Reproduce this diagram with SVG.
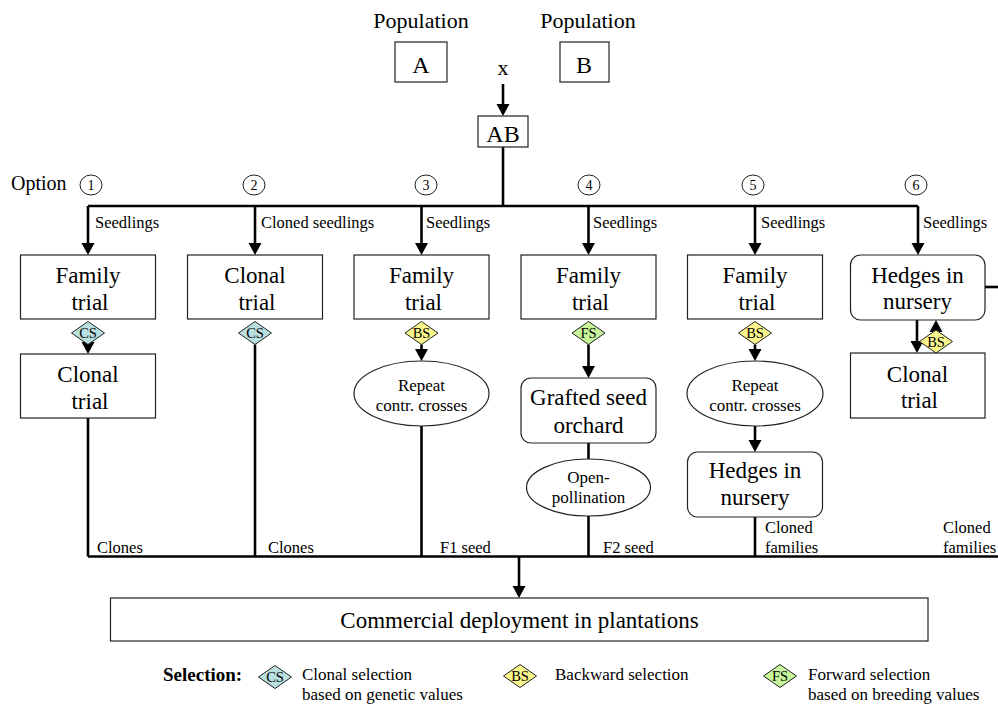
<svg xmlns="http://www.w3.org/2000/svg" width="998" height="705" viewBox="0 0 998 705" font-family="'Liberation Serif', 'Times New Roman', Times, serif">
  <style>
    text { font-family: 'Liberation Serif', 'Times New Roman', Times, serif; fill: #000; }
    .big { font-size: 23px; text-anchor: middle; }
    .top { font-size: 22px; text-anchor: middle; }
    .lbl { font-size: 16.5px; }
    .oval { font-size: 17px; text-anchor: middle; }
    .num { font-size: 14px; text-anchor: middle; }
    .dia { font-size: 14.5px; text-anchor: middle; }
    .leg { font-size: 17px; }
    .box { fill: #fff; stroke: #222; stroke-width: 1.2; }
    .ell { fill: #fff; stroke: #222; stroke-width: 1.2; }
    .circ { fill: #fff; stroke: #222; stroke-width: 1; }
    .conn { fill: none; stroke: #000; stroke-width: 2.6; }
    .cs { fill: #b9dfdf; stroke: #222; stroke-width: 1; }
    .bs { fill: #fbf68c; stroke: #222; stroke-width: 1; }
    .fs { fill: #c8f59c; stroke: #222; stroke-width: 1; }
  </style>
  <defs>
    <marker id="ah" markerUnits="userSpaceOnUse" markerWidth="14" markerHeight="14" viewBox="0 -7 12 14" refX="9" refY="0" orient="auto">
      <path d="M0,-6.5 L12,0 L0,6.5 z" fill="#000"/>
    </marker>
    <path id="diamond" d="M-16.5,0 L0,-11.5 L16.5,0 L0,11.5 z"/>
  </defs>

  <!-- connectors -->
  <g id="connectors" class="conn">
    <path d="M503,84 V113" marker-end="url(#ah)"/>
    <path d="M503,147 V206"/>
    <path d="M88,206 H918"/>
    <path d="M88,206 V252" marker-end="url(#ah)"/>
    <path d="M255,206 V252" marker-end="url(#ah)"/>
    <path d="M421.5,206 V252" marker-end="url(#ah)"/>
    <path d="M588.5,206 V252" marker-end="url(#ah)"/>
    <path d="M755,206 V252" marker-end="url(#ah)"/>
    <path d="M918,206 V252" marker-end="url(#ah)"/>
    <!-- option 1 -->
    <path d="M88,344.5 V351" marker-end="url(#ah)"/>
    <path d="M88,418 V556.5"/>
    <!-- option 2 -->
    <path d="M255,344.5 V556.5"/>
    <!-- option 3 -->
    <path d="M421.5,344.5 V358" marker-end="url(#ah)"/>
    <path d="M421.5,426 V556.5"/>
    <!-- option 4 -->
    <path d="M588.5,344.5 V375" marker-end="url(#ah)"/>
    <path d="M588.5,443 V459"/>
    <path d="M588.5,516 V556.5"/>
    <!-- option 5 -->
    <path d="M755,344.5 V358" marker-end="url(#ah)"/>
    <path d="M755,426 V449" marker-end="url(#ah)"/>
    <path d="M755,517 V556.5"/>
    <!-- option 6 -->
    <path d="M917,320 V350" marker-end="url(#ah)"/>
    <path d="M936,330 V323" marker-end="url(#ah)"/>
    <path d="M985,287 H998"/>
    <!-- collector to deployment -->
    <path d="M88,556.5 H998"/>
    <path d="M519,556.5 V595" marker-end="url(#ah)"/>
  </g>

  <!-- parents and cross -->
  <g id="popA">
    <text class="top" x="421" y="28">Population</text>
    <rect class="box" x="395" y="42" width="52" height="40"/>
    <text class="top" x="421" y="73" style="font-size:24px">A</text>
  </g>
  <g id="popB">
    <text class="top" x="588" y="28">Population</text>
    <rect class="box" x="560" y="42" width="49" height="40"/>
    <text class="top" x="584" y="73" style="font-size:24px">B</text>
  </g>
  <text class="top" x="503" y="75">x</text>
  <g id="AB">
    <rect class="box" x="478" y="116" width="50" height="31"/>
    <text class="top" x="503" y="141.5" style="font-size:24px">AB</text>
  </g>

  <!-- option markers -->
  <g id="options">
    <text x="11" y="190" style="font-size:20px">Option</text>
    <ellipse class="circ" cx="91" cy="185" rx="11" ry="10"/><text class="num" x="91" y="190">1</text>
    <ellipse class="circ" cx="254" cy="185" rx="11" ry="10"/><text class="num" x="254" y="190">2</text>
    <ellipse class="circ" cx="426" cy="185" rx="11" ry="10"/><text class="num" x="426" y="190">3</text>
    <ellipse class="circ" cx="589" cy="185" rx="11" ry="10"/><text class="num" x="589" y="190">4</text>
    <ellipse class="circ" cx="753" cy="185" rx="11" ry="10"/><text class="num" x="753" y="190">5</text>
    <ellipse class="circ" cx="916" cy="185" rx="11" ry="10"/><text class="num" x="916" y="190">6</text>
  </g>

  <!-- connector labels -->
  <g id="labels" class="lbl">
    <text x="95" y="228">Seedlings</text>
    <text x="261" y="228">Cloned seedlings</text>
    <text x="426" y="228">Seedlings</text>
    <text x="593" y="228">Seedlings</text>
    <text x="761" y="228">Seedlings</text>
    <text x="923" y="228">Seedlings</text>
    <text x="97" y="552.5">Clones</text>
    <text x="268" y="552.5">Clones</text>
    <text x="440" y="552.5">F1 seed</text>
    <text x="603" y="552.5">F2 seed</text>
    <text x="765" y="533">Cloned</text>
    <text x="765" y="552.5">families</text>
    <text x="943" y="533">Cloned</text>
    <text x="943" y="552.5">families</text>
  </g>

  <!-- option 1 -->
  <g id="o1-family">
    <rect class="box" x="20.5" y="255" width="135" height="64"/>
    <text class="big" x="88" y="283">Family</text>
    <text class="big" x="90" y="310">trial</text>
  </g>
  <g id="o1-cs">
    <use href="#diamond" class="cs" x="88" y="333"/>
    <text class="dia" x="88" y="338">CS</text>
  </g>
  <g id="o1-clonal">
    <rect class="box" x="20.5" y="354" width="135" height="64"/>
    <text class="big" x="88" y="382">Clonal</text>
    <text class="big" x="90" y="409">trial</text>
  </g>

  <!-- option 2 -->
  <g id="o2-clonal">
    <rect class="box" x="187.5" y="255" width="135" height="64"/>
    <text class="big" x="255" y="283">Clonal</text>
    <text class="big" x="257" y="310">trial</text>
  </g>
  <g id="o2-cs">
    <use href="#diamond" class="cs" x="255" y="333"/>
    <text class="dia" x="255" y="338">CS</text>
  </g>

  <!-- option 3 -->
  <g id="o3-family">
    <rect class="box" x="354" y="255" width="135" height="64"/>
    <text class="big" x="421.5" y="283">Family</text>
    <text class="big" x="423.5" y="310">trial</text>
  </g>
  <g id="o3-bs">
    <use href="#diamond" class="bs" x="421.5" y="333"/>
    <text class="dia" x="421.5" y="338">BS</text>
  </g>
  <g id="o3-repeat">
    <ellipse class="ell" cx="421.5" cy="393.5" rx="67.5" ry="32.5"/>
    <text class="oval" x="421.5" y="391">Repeat</text>
    <text class="oval" x="421.5" y="411">contr. crosses</text>
  </g>

  <!-- option 4 -->
  <g id="o4-family">
    <rect class="box" x="521" y="255" width="135" height="64"/>
    <text class="big" x="588.5" y="283">Family</text>
    <text class="big" x="590.5" y="310">trial</text>
  </g>
  <g id="o4-fs">
    <use href="#diamond" class="fs" x="588.5" y="333"/>
    <text class="dia" x="588.5" y="338">FS</text>
  </g>
  <g id="o4-orchard">
    <rect class="box" x="521" y="378" width="135" height="65" rx="10"/>
    <text class="big" x="588.5" y="405">Grafted seed</text>
    <text class="big" x="588.5" y="432.5">orchard</text>
  </g>
  <g id="o4-openpoll">
    <ellipse class="ell" cx="588.5" cy="487.5" rx="62" ry="28.5"/>
    <text class="oval" x="588.5" y="483">Open-</text>
    <text class="oval" x="588.5" y="503">pollination</text>
  </g>

  <!-- option 5 -->
  <g id="o5-family">
    <rect class="box" x="687.5" y="255" width="135" height="64"/>
    <text class="big" x="755" y="283">Family</text>
    <text class="big" x="757" y="310">trial</text>
  </g>
  <g id="o5-bs">
    <use href="#diamond" class="bs" x="755" y="333"/>
    <text class="dia" x="755" y="338">BS</text>
  </g>
  <g id="o5-repeat">
    <ellipse class="ell" cx="755" cy="393.5" rx="68" ry="32.5"/>
    <text class="oval" x="755" y="391">Repeat</text>
    <text class="oval" x="755" y="411">contr. crosses</text>
  </g>
  <g id="o5-hedges">
    <rect class="box" x="687.5" y="452" width="135" height="65" rx="10"/>
    <text class="big" x="755" y="478">Hedges in</text>
    <text class="big" x="755" y="505">nursery</text>
  </g>

  <!-- option 6 -->
  <g id="o6-hedges">
    <rect class="box" x="850.5" y="255" width="134.5" height="65" rx="10"/>
    <text class="big" x="917.5" y="283">Hedges in</text>
    <text class="big" x="917.5" y="309">nursery</text>
  </g>
  <g id="o6-bs">
    <use href="#diamond" class="bs" x="936" y="341.5"/>
    <text class="dia" x="936" y="346.5">BS</text>
  </g>
  <g id="o6-clonal">
    <rect class="box" x="850.5" y="353" width="134.5" height="65"/>
    <text class="big" x="917.5" y="382">Clonal</text>
    <text class="big" x="919.5" y="408">trial</text>
  </g>

  <!-- deployment -->
  <g id="deployment">
    <rect class="box" x="110.5" y="598" width="817.5" height="43"/>
    <text class="big" x="519.5" y="628">Commercial deployment in plantations</text>
  </g>

  <!-- legend -->
  <g id="legend">
    <text x="163" y="681" style="font-size:19px;font-weight:bold">Selection:</text>
    <use href="#diamond" class="cs" x="275" y="677"/>
    <text class="dia" x="275" y="682">CS</text>
    <text class="leg" x="302" y="680">Clonal selection</text>
    <text class="leg" x="302" y="700">based on genetic values</text>
    <use href="#diamond" class="bs" x="520" y="676"/>
    <text class="dia" x="520" y="681">BS</text>
    <text class="leg" x="555" y="680">Backward selection</text>
    <use href="#diamond" class="fs" x="780" y="676"/>
    <text class="dia" x="780" y="681">FS</text>
    <text class="leg" x="808" y="680">Forward selection</text>
    <text class="leg" x="808" y="700">based on breeding values</text>
  </g>
</svg>
